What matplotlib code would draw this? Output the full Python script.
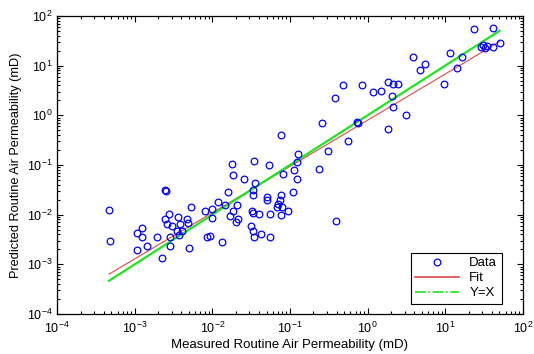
import numpy as np
import matplotlib
matplotlib.use("Agg")
import matplotlib.pyplot as plt
from matplotlib.lines import Line2D

# measured vs predicted routine air permeability (mD)
measured = [4.67e-4, 4.8e-4, 1.06e-3, 1.08e-3, 1.23e-3, 1.24e-3, 1.43e-3, 1.96e-3, 2.24e-3, 2.45e-3,
            2.56e-3, 2.76e-3, 2.45e-3, 3.64e-3, 4.75e-3, 2.58e-3, 2.99e-3, 3.83e-3, 4.9e-3, 3.47e-3,
            4.03e-3, 2.84e-3, 3.72e-3, 2.84e-3, 5.05e-3, 5.26e-3, 8.04e-3, 9.8e-3, 0.012, 9.97e-3,
            8.45e-3, 9.3e-3, 0.0132, 0.016, 0.0177, 0.0182, 0.0255, 0.0343, 0.0353, 0.054,
            0.0822, 0.114, 0.123, 0.033, 0.0336, 0.050, 0.050, 0.0757, 0.108, 0.0705,
            0.0673, 0.078, 0.093, 0.0206, 0.0182, 0.0171, 0.0215, 0.0201, 0.032, 0.0336,
            0.0402, 0.055, 0.0757, 0.0311, 0.0336, 0.0419, 0.0343, 0.055, 0.0145, 0.074,
            0.0764, 0.128, 0.124, 0.238, 0.255, 0.305, 0.39, 0.378, 0.484, 0.561,
            0.755, 0.73, 0.836, 1.16, 1.51, 1.82, 2.13, 2.47, 2.05, 2.13,
            1.84, 3.17, 3.82, 4.7, 5.45, 9.57, 11.7, 14.2, 16.6, 23.6,
            41.9, 50.3, 41.5, 29.2, 30.6, 32.2, 34.2]
predicted = [0.0124, 0.00299, 0.00434, 0.00195, 0.0054, 0.00356, 0.00229, 0.0036, 0.00137, 0.0307,
             0.030, 0.0103, 0.0081, 0.00886, 0.0081, 0.0064, 0.00592, 0.0064, 0.0067, 0.00475,
             0.00475, 0.0036, 0.0039, 0.00234, 0.00216, 0.0141, 0.0120, 0.0128, 0.0182, 0.00846,
             0.0035, 0.00372, 0.00286, 0.029, 0.105, 0.0638, 0.053, 0.12, 0.0428, 0.101,
             0.066, 0.0805, 0.0523, 0.0314, 0.0249, 0.0224, 0.0198, 0.0252, 0.0286, 0.0164,
             0.0145, 0.0141, 0.0119, 0.0157, 0.0120, 0.0094, 0.0082, 0.00722, 0.0120, 0.011,
             0.0102, 0.0103, 0.00986, 0.00592, 0.00469, 0.00408, 0.0035, 0.0036, 0.0157, 0.0198,
             0.407, 0.167, 0.117, 0.082, 0.692, 0.191, 0.00746, 2.26, 4.14, 0.309,
             0.711, 0.73, 4.14, 2.99, 3.09, 4.63, 4.28, 4.28, 2.49, 1.49,
             0.538, 1.0, 14.6, 8.18, 10.8, 4.18, 17.7, 8.85, 14.7, 55.5,
             57.3, 28.2, 24.1, 24.1, 26.1, 22.4, 24.4]

# power-law fit in log10 space: log10(y) = fit_intercept + fit_slope * log10(x)
fit_slope = 0.93
fit_intercept = -0.10

plt.rcParams['font.family'] = ['Liberation Sans', 'DejaVu Sans']

fig = plt.figure(figsize=(5.34, 3.54), dpi=100)
ax = fig.add_axes([0.107, 0.113, 0.872, 0.842])

x_sorted = np.sort(np.array(measured))
fit_y = 10 ** (fit_intercept + fit_slope * np.log10(x_sorted))

ax.plot(measured, predicted, 'o', markerfacecolor='none', markeredgecolor='#0000ff',
        markersize=4.8, markeredgewidth=0.9, zorder=3)
ax.plot(x_sorted, fit_y, color='#e04848', linewidth=0.8, zorder=2)
ax.plot(x_sorted, x_sorted, color='#1ee61e', linewidth=1.6, zorder=2)

ax.set_xscale('log')
ax.set_yscale('log')
ax.set_xlim(1e-4, 1e2)
ax.set_ylim(1e-4, 1e2)

ax.tick_params(which='both', direction='in', top=True, right=True, labelsize=9, width=0.8)
ax.tick_params(which='major', length=4)
ax.tick_params(which='minor', length=2.2)
ax.tick_params(axis='x', pad=5)
for s in ax.spines.values():
    s.set_linewidth(0.9)

ax.set_xlabel('Measured Routine Air Permeability (mD)', fontsize=9.5, labelpad=2)
ax.set_ylabel('Predicted Routine Air Permeability (mD)', fontsize=9.2, labelpad=3)

handles = [
    Line2D([0], [0], linestyle='none', marker='o', markerfacecolor='none',
           markeredgecolor='#0000ff', markersize=4.8, markeredgewidth=0.9),
    Line2D([0], [0], color='#e04848', linewidth=1.2),
    Line2D([0], [0], color='#1ee61e', linewidth=1.2, linestyle='-.'),
]
leg = ax.legend(handles, ['Data', 'Fit', 'Y=X'], loc='lower right',
                bbox_to_anchor=(0.955, 0.034), borderaxespad=0, fontsize=9.5,
                handlelength=3.3, fancybox=False, framealpha=1, edgecolor='black',
                borderpad=0.35, labelspacing=0.2, handletextpad=0.8)
leg.get_frame().set_linewidth(0.8)

fig.savefig('out.png', dpi=100)
